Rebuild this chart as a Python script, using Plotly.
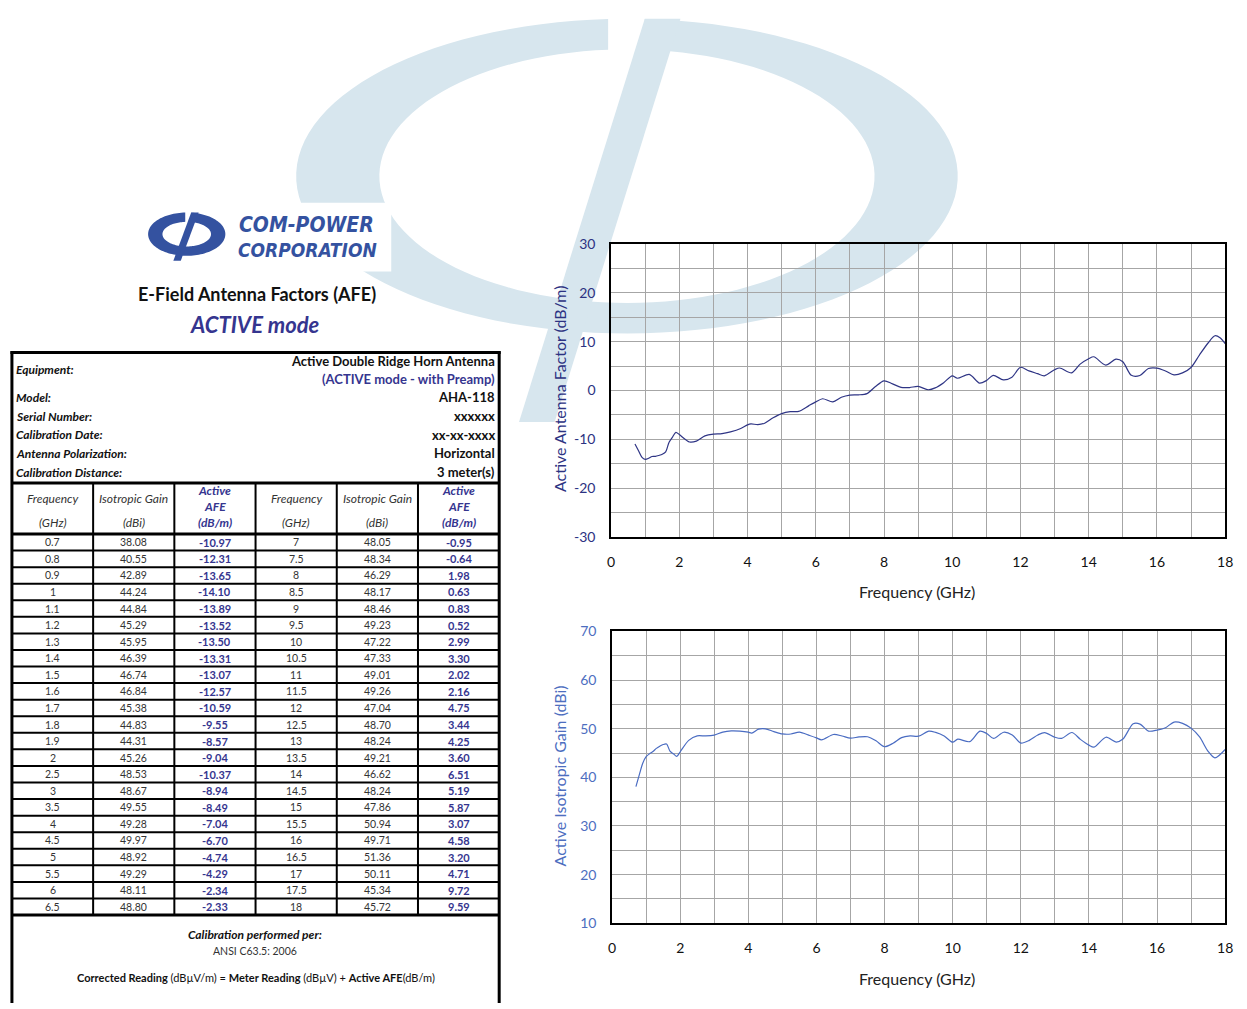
import math
import plotly.graph_objects as go

W, H = 1247, 1009
FONT = "Lato, 'Open Sans', sans-serif"
NAVY = "#2c3282"
INDIGO = "#35358f"
MIDBLUE = "#4d6ebf"
WATERMARK = "#d7e6ee"
LOGO_BLUE = "#3452a0"

# ---- calibration table: left half (0.7 - 6.5 GHz) ----
freq_lo = [0.7, 0.8, 0.9, 1, 1.1, 1.2, 1.3, 1.4, 1.5, 1.6, 1.7, 1.8, 1.9,
           2, 2.5, 3, 3.5, 4, 4.5, 5, 5.5, 6, 6.5]
gain_lo = [38.08, 40.55, 42.89, 44.24, 44.84, 45.29, 45.95, 46.39, 46.74, 46.84,
           45.38, 44.83, 44.31, 45.26, 48.53, 48.67, 49.55, 49.28, 49.97, 48.92,
           49.29, 48.11, 48.80]
afe_lo = [-10.97, -12.31, -13.65, -14.10, -13.89, -13.52, -13.50, -13.31, -13.07,
          -12.57, -10.59, -9.55, -8.57, -9.04, -10.37, -8.94, -8.49, -7.04, -6.70,
          -4.74, -4.29, -2.34, -2.33]

# ---- calibration table: right half (7 - 18 GHz) ----
freq_hi = [7, 7.5, 8, 8.5, 9, 9.5, 10, 10.5, 11, 11.5, 12, 12.5, 13, 13.5, 14,
           14.5, 15, 15.5, 16, 16.5, 17, 17.5, 18]
gain_hi = [48.05, 48.34, 46.29, 48.17, 48.46, 49.23, 47.22, 47.33, 49.01, 49.26,
           47.04, 48.70, 48.24, 49.21, 46.62, 48.24, 47.86, 50.94, 49.71, 51.36,
           50.11, 45.34, 45.72]
afe_hi = [-0.95, -0.64, 1.98, 0.63, 0.83, 0.52, 2.99, 3.30, 2.02, 2.16, 4.75, 3.44,
          4.25, 3.60, 6.51, 5.19, 5.87, 3.07, 4.58, 3.20, 4.71, 9.72, 9.59]

# ---- additional sweep points between the tabulated frequencies ----
afe_sweep_f = [2.3, 2.75, 3.25, 3.8, 4.1, 4.3, 4.75, 5.25, 5.8, 6.2,
               6.75, 7.25, 7.75, 8.25, 8.75, 9.3, 9.75, 10.15, 10.8, 11.2,
               11.75, 12.25, 12.7, 13.15, 13.75, 14.15, 14.8, 15.25, 15.75, 16.25,
               16.75, 17.25, 17.7, 17.85]
afe_sweep_v = [-10.55, -9.3, -8.85, -7.8, -6.85, -7.0, -5.6, -4.35, -3.1, -1.7,
               -1.4, -0.9, 0.8, 1.35, 0.6, 0.15, 1.6, 2.5, 1.5, 3.1,
               2.7, 4.0, 3.0, 4.6, 5.4, 6.9, 6.4, 3.1, 4.5, 4.0,
               3.6, 7.3, 11.2, 10.8]
gain_sweep_f = [2.25, 2.75, 3.25, 3.75, 4.1, 4.3, 4.75, 5.25, 5.8, 6.15,
                6.75, 7.25, 7.75, 8.25, 8.75, 9.3, 9.75, 10.15, 10.8, 11.2,
                11.75, 12.25, 12.7, 13.2, 13.75, 14.15, 14.8, 15.3, 15.75, 16.25,
                16.75, 17.25, 17.7]
gain_sweep_v = [47.6, 48.5, 49.3, 49.5, 49.1, 49.9, 49.4, 48.9, 48.6, 47.7,
                48.5, 48.3, 47.5, 47.0, 48.5, 49.5, 48.5, 47.85, 49.5, 48.0,
                48.7, 47.6, 49.2, 48.0, 47.8, 46.2, 47.25, 51.0, 49.5, 50.2,
                51.1, 48.3, 44.0]

# ---- axis ticks ----
x_ticks = [0, 2, 4, 6, 8, 10, 12, 14, 16, 18]
afe_ticks = [-30, -20, -10, 0, 10, 20, 30]
gain_ticks = [10, 20, 30, 40, 50, 60, 70]


def merged(f_a, v_a, f_b, v_b):
    pts = sorted(zip(list(f_a) + list(f_b), list(v_a) + list(v_b)))
    return [p[0] for p in pts], [p[1] for p in pts]


afe_x, afe_y = merged(freq_lo + freq_hi, afe_lo + afe_hi, afe_sweep_f, afe_sweep_v)
gain_x, gain_y = merged(freq_lo + freq_hi, gain_lo + gain_hi, gain_sweep_f, gain_sweep_v)


# ---- pixel -> paper helpers ----
def px(x):
    return x / W


def py(y):
    return 1 - y / H


def pt(x, y):
    return f"{px(x):.5f},{py(y):.5f}"


def logo_shapes(cx, cy, rx, ry, irx, iry, x_cut, x_bar, bar_w, bar_bx, bar_by, color):
    """Ellipse ring with a slanted stem, as two filled paths."""
    n = 120
    tA = math.acos((x_cut - cx) / rx)
    tB = math.acos((x_bar - cx) / rx) + 2 * math.pi
    sA = math.acos(max(-1, min(1, (x_cut - cx) / irx)))
    sB = math.acos(max(-1, min(1, (x_bar - cx) / irx))) + 2 * math.pi
    outer = [(cx + rx * math.cos(tA + (tB - tA) * i / n),
              cy - ry * math.sin(tA + (tB - tA) * i / n)) for i in range(n + 1)]
    inner = [(cx + irx * math.cos(sB + (sA - sB) * i / n),
              cy - iry * math.sin(sB + (sA - sB) * i / n)) for i in range(n + 1)]
    ring = "M " + " L ".join(pt(x, y) for x, y in outer + inner) + " Z"
    top = cy - ry
    stem = ("M " + pt(x_bar, top) + " L " + pt(x_bar + bar_w, top) + " L "
            + pt(bar_bx + bar_w, bar_by) + " L " + pt(bar_bx, bar_by) + " Z")
    common = dict(type="path", xref="paper", yref="paper", fillcolor=color,
                  line=dict(width=0), layer="below")
    return [dict(path=ring, **common), dict(path=stem, **common)]


shapes = []
# large background emblem
shapes += logo_shapes(629, 170, 334, 160, 250, 129, 610, 647, 36, 520, 420, WATERMARK)
# white panel behind the company logo
shapes.append(dict(type="rect", xref="paper", yref="paper", x0=px(130), x1=px(391),
                   y0=py(267), y1=py(197), fillcolor="white", line=dict(width=0),
                   layer="below"))
# company logo
shapes += logo_shapes(184.5, 229, 39, 22, 24.5, 12.5, 183, 189, 7.5, 171, 256, LOGO_BLUE)


def hline(x0, x1, y, w=2):
    shapes.append(dict(type="line", xref="paper", yref="paper", x0=px(x0), x1=px(x1),
                       y0=py(y), y1=py(y), line=dict(color="black", width=w)))


def vline(x, y0, y1, w=2):
    shapes.append(dict(type="line", xref="paper", yref="paper", x0=px(x), x1=px(x),
                       y0=py(y0), y1=py(y1), line=dict(color="black", width=w)))


# ---- table frame ----
T_L, T_R = 8, 500
col_edges = [8, 90, 172, 254, 336, 418, 500]
ROW_TOP, ROW_H = 534, 16.85
n_rows = len(freq_lo)
tbl_bottom = ROW_TOP + ROW_H * n_rows

hline(T_L - 1.5, T_R + 1.5, 349.5, 3)
hline(T_L, T_R, 482, 3)
hline(T_L, T_R, ROW_TOP, 3)
hline(T_L, T_R, tbl_bottom, 3)
vline(T_L, 348, H + 2, 3)
vline(T_R, 348, H + 2, 3)
for k in range(1, n_rows):
    hline(T_L, T_R, ROW_TOP + ROW_H * k, 2)
for xe in col_edges[1:-1]:
    vline(xe, 482, tbl_bottom, 2)

annotations = []


def txt(x, y, s, size=11, color="#222222", xanchor="center", angle=0, family=FONT):
    annotations.append(dict(x=px(x), y=py(y), xref="paper", yref="paper", text=s,
                            showarrow=False, xanchor=xanchor, yanchor="middle",
                            textangle=angle,
                            font=dict(family=family, size=size, color=color)))


# logo lettering and headings
LOGO_FONT = "'Liberation Sans Narrow', 'DejaVu Sans Condensed', Lato, sans-serif"
txt(235, 220, "<b><i>COM-POWER</i></b>", 21, LOGO_BLUE, "left", family=LOGO_FONT)
txt(234, 245, "<b><i>CORPORATION</i></b>", 19, LOGO_BLUE, "left", family=LOGO_FONT)
txt(255, 290, "<b>E-Field Antenna Factors (AFE)</b>", 18, "#111111")
txt(253, 321, "<b><i>ACTIVE mode</i></b>", 22, INDIGO)

# equipment block
info_rows = [
    ("Equipment:", 367),
    ("Model:", 395),
    ("Serial Number:", 414),
    ("Calibration Date:", 433),
    ("Antenna Polarization:", 452),
    ("Calibration Distance:", 471),
]
for label, yy in info_rows:
    txt(10, yy, f"<b><i>{label}</i></b>", 12, "#111111", "left")
info_values = [
    ("Active Double Ridge Horn Antenna", 358, "#111111"),
    ("(ACTIVE mode - with Preamp)", 376, INDIGO),
    ("AHA-118", 395, "#111111"),
    ("xxxxxx", 414, "#111111"),
    ("xx-xx-xxxx", 433, "#111111"),
    ("Horizontal", 452, "#111111"),
    ("3 meter(s)", 471, "#111111"),
]
for value, yy, col in info_values:
    txt(498, yy, f"<b>{value}</b>", 13, col, "right")

# column headers
centers = [(col_edges[i] + col_edges[i + 1]) / 2 for i in range(6)]
for half in (0, 3):
    c0, c1, c2 = centers[half], centers[half + 1], centers[half + 2]
    txt(c0, 498, "<i>Frequency</i>", 12, "#333333")
    txt(c0, 522, "<i>(GHz)</i>", 12, "#333333")
    txt(c1, 498, "<i>Isotropic Gain</i>", 12, "#333333")
    txt(c1, 522, "<i>(dBi)</i>", 12, "#333333")
    txt(c2, 490, "<b><i>Active</i></b>", 12, INDIGO)
    txt(c2, 506, "<b><i>AFE</i></b>", 12, INDIGO)
    txt(c2, 522, "<b><i>(dB/m)</i></b>", 12, INDIGO)

# table body
for i in range(n_rows):
    yy = ROW_TOP + ROW_H * (i + 0.5)
    txt(centers[0], yy, f"{freq_lo[i]:g}", 10.5, "#333333")
    txt(centers[1], yy, f"{gain_lo[i]:.2f}", 10.5, "#333333")
    txt(centers[2], yy, f"<b>{afe_lo[i]:.2f}</b>", 11, INDIGO)
    txt(centers[3], yy, f"{freq_hi[i]:g}", 10.5, "#333333")
    txt(centers[4], yy, f"{gain_hi[i]:.2f}", 10.5, "#333333")
    txt(centers[5], yy, f"<b>{afe_hi[i]:.2f}</b>", 11, INDIGO)

# footer
txt(253, 941, "<b><i>Calibration performed per:</i></b>", 12, "#111111")
txt(253, 958, "ANSI C63.5: 2006", 10.5, "#333333")
txt(254, 985, "<b>Corrected Reading</b> (dBµV/m) = <b>Meter Reading</b> (dBµV) + "
              "<b>Active AFE</b>(dB/m)", 11, "#111111")

# axis titles
txt(922, 592, "Frequency (GHz)", 16, "#222222")
txt(922, 986, "Frequency (GHz)", 16, "#222222")
txt(561, 386, "Active Antenna Factor (dB/m)", 16, NAVY, angle=-90)
txt(561, 780, "Active Isotropic Gain (dBi)", 16, MIDBLUE, angle=-90)

fig = go.Figure()
fig.add_trace(go.Scatter(x=afe_x, y=afe_y, mode="lines", xaxis="x", yaxis="y",
                         line=dict(color="#2f3585", width=1.2, shape="spline",
                                   smoothing=0.8),
                         hoverinfo="x+y"))
fig.add_trace(go.Scatter(x=gain_x, y=gain_y, mode="lines", xaxis="x2", yaxis="y2",
                         line=dict(color="#4a6cc2", width=1.2, shape="spline",
                                   smoothing=0.8),
                         hoverinfo="x+y"))

GRID = "#a6a6a6"
xcommon = dict(range=[0, 18], tickmode="array", tickvals=x_ticks,
               ticktext=[str(v) for v in x_ticks],
               ticks="", showgrid=True, gridcolor=GRID, gridwidth=1.3,
               minor=dict(dtick=1, tick0=0, showgrid=True, gridcolor=GRID, gridwidth=1.3),
               showline=True, mirror=True, linecolor="black", linewidth=1.6,
               zeroline=False, ticklabelstandoff=11,
               tickfont=dict(family=FONT, size=14, color="#111111"), fixedrange=True)


def ycommon(ticks, color):
    return dict(range=[ticks[0], ticks[-1]], tickmode="array", tickvals=ticks,
                ticktext=[str(v) for v in ticks], ticks="",
                showgrid=True, gridcolor=GRID, gridwidth=1.3,
                minor=dict(dtick=5, tick0=0, showgrid=True, gridcolor=GRID, gridwidth=1.3),
                showline=True, mirror=True, linecolor="black", linewidth=1.6,
                zeroline=False, ticklabelstandoff=11,
                tickfont=dict(family=FONT, size=14, color=color), fixedrange=True)


fig.update_layout(
    width=W, height=H, autosize=False,
    margin=dict(l=0, r=0, t=0, b=0),
    paper_bgcolor="white", plot_bgcolor="rgba(0,0,0,0)",
    showlegend=False,
    xaxis=dict(domain=[px(613), px(1233)], anchor="y", **xcommon),
    yaxis=dict(domain=[py(537), py(239)], anchor="x", **ycommon(afe_ticks, NAVY)),
    xaxis2=dict(domain=[px(614), px(1233)], anchor="y2", **xcommon),
    yaxis2=dict(domain=[py(930), py(633)], anchor="x2", **ycommon(gain_ticks, MIDBLUE)),
    shapes=shapes,
    annotations=annotations,
)

fig.write_html("out.html")
